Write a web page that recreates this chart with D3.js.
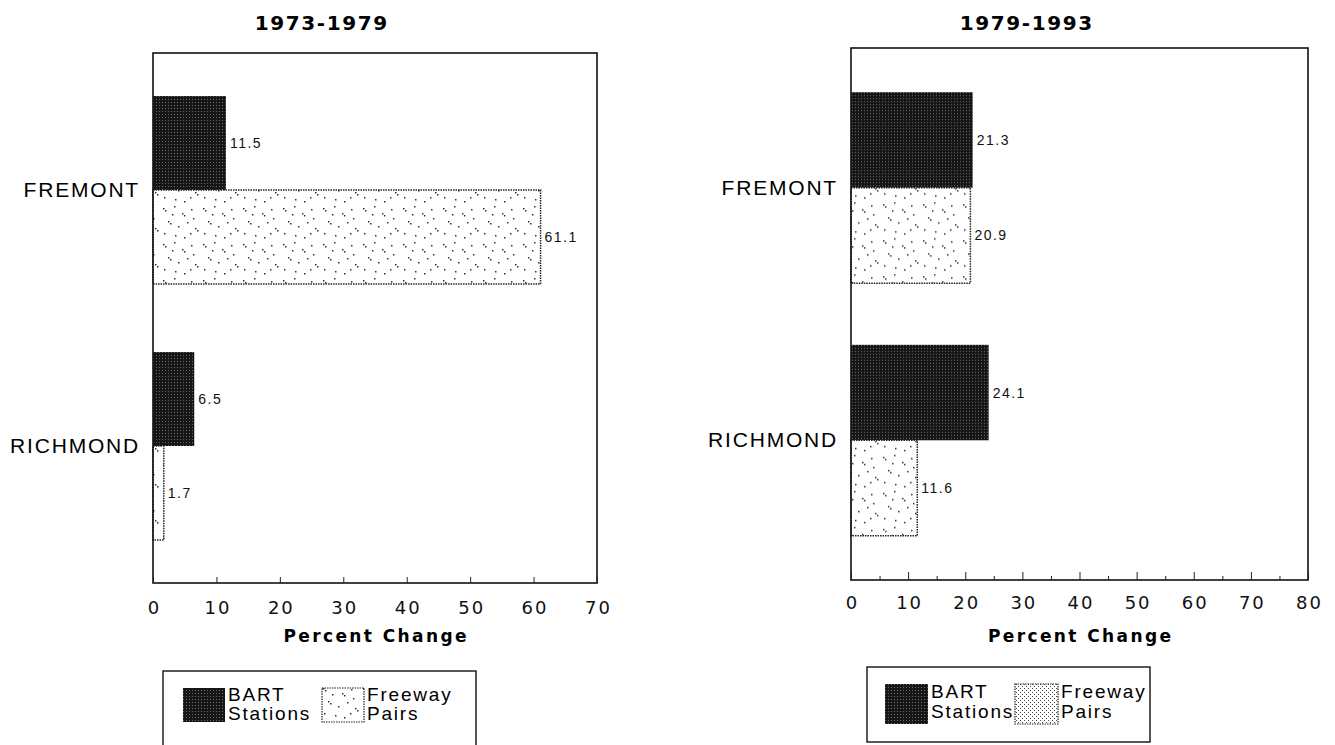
<!DOCTYPE html>
<html><head><meta charset="utf-8">
<script src="https://cdn.jsdelivr.net/npm/d3@7"></script>
<style>
body{margin:0;background:#fff;}
svg{display:block;font-family:"Liberation Sans",Arial,sans-serif;}
</style></head>
<body><svg id="c" width="1335" height="745"></svg>
<script>
const categories = ["FREMONT", "RICHMOND"];
const seriesNames = ["BART", "Freeway"];
const legendLines = [["BART", "Stations"], ["Freeway", "Pairs"]];
const titles = ["1973-1979", "1979-1993"];
const bart7379 = [11.5, 6.5];
const freeway7379 = [61.1, 1.7];
const bart7993 = [21.3, 24.1];
const freeway7993 = [20.9, 11.6];
const ticks7379 = [0, 10, 20, 30, 40, 50, 60, 70];
const ticks7993 = [0, 10, 20, 30, 40, 50, 60, 70, 80];
const minorTicks7993 = [5, 15, 25, 35, 45, 55, 65, 75];
const axisTitle = "Percent Change";

const wide = "'DejaVu Sans',Verdana,sans-serif";
const svg = d3.select("#c");
const defs = svg.append("defs");
const pb = defs.append("pattern").attr("id","bartPat").attr("patternUnits","userSpaceOnUse").attr("width",3).attr("height",3);
pb.append("rect").attr("width",3).attr("height",3).attr("fill","#161616");
pb.append("rect").attr("x",0).attr("y",0).attr("width",1).attr("height",1).attr("fill","#6a6a6a");
const pf = defs.append("pattern").attr("id","fwPat").attr("patternUnits","userSpaceOnUse").attr("width",40).attr("height",36);
pf.append("rect").attr("width",40).attr("height",36).attr("fill","#fff");
const dots = [[3,4],[5,6],[14,2],[22,9],[24,11],[31,5],[8,17],[10,19],[18,22],[27,18],[35,24],[37,26],[4,29],[15,31],[24,33],[30,29],[33,14],[12,10]];
pf.selectAll("rect.d").data(dots).join("rect").attr("class","d")
  .attr("x",d=>d[0]).attr("y",d=>d[1]).attr("width",1.5).attr("height",1.5).attr("fill","#333");
const ph = defs.append("pattern").attr("id","fwPat2").attr("patternUnits","userSpaceOnUse").attr("width",4).attr("height",4);
ph.append("rect").attr("width",4).attr("height",4).attr("fill","#fff");
ph.append("rect").attr("width",1).attr("height",1).attr("fill","#444");
ph.append("rect").attr("x",2).attr("y",2).attr("width",1).attr("height",1).attr("fill","#444");

function panel(cfg){
  const g = svg.append("g");
  const x = d3.scaleLinear().domain([0, cfg.max]).range([cfg.x0, cfg.x1]);
  const y = d3.scaleBand().domain(categories).range([cfg.y0, cfg.y1])
    .paddingInner(cfg.pi).paddingOuter(cfg.po);
  const ys = d3.scaleBand().domain(seriesNames).range([0, y.bandwidth()]);
  g.append("text").attr("x", cfg.titleX + 0.8).attr("y", 30)
    .attr("text-anchor","middle").attr("font-size",20).attr("font-weight","bold")
    .attr("font-family",wide).attr("letter-spacing",1.6).text(cfg.title);
  const rows = categories.map((c,i)=>({cat:c, vals:[{s:"BART", v:cfg.bart[i]},{s:"Freeway", v:cfg.fw[i]}]}));
  const rg = g.selectAll("g.row").data(rows).join("g").attr("transform", d=>`translate(0,${y(d.cat)})`);
  rg.selectAll("rect").data(d=>d.vals).join("rect")
    .attr("x", x(0)).attr("y", d=>ys(d.s)).attr("width", d=>x(d.v)-x(0)).attr("height", ys.bandwidth())
    .attr("fill", d=> d.s==="BART" ? "url(#bartPat)" : "url(#fwPat)")
    .attr("stroke", d=> d.s==="BART" ? "none" : "#222")
    .attr("stroke-width", 1.5).attr("stroke-dasharray", d=> d.s==="BART" ? null : "1.5,1");
  rg.selectAll("text").data(d=>d.vals).join("text")
    .attr("x", d=>x(d.v)+4).attr("y", d=>ys(d.s)+ys.bandwidth()/2+5)
    .attr("font-size",14).attr("letter-spacing",1.5).attr("fill","#111").text(d=>d3.format(".1f")(d.v));
  g.selectAll("text.cat").data(categories).join("text").attr("class","cat")
    .attr("x", cfg.x0-13).attr("y", d=>y(d)+y.bandwidth()/2+7)
    .attr("text-anchor","end").attr("font-size",21).attr("letter-spacing",1.8).text(d=>d);
  g.append("rect").attr("x",cfg.x0).attr("y",cfg.y0).attr("width",cfg.x1-cfg.x0).attr("height",cfg.y1-cfg.y0)
    .attr("fill","none").attr("stroke","#111").attr("stroke-width",1.6);
  const ax = g.append("g").attr("transform",`translate(0,${cfg.y1})`)
    .call(d3.axisBottom(x).tickValues(cfg.ticks).tickSize(-cfg.tickLen).tickPadding(cfg.pad).tickFormat(d3.format("d")));
  ax.select(".domain").remove();
  ax.selectAll("text").attr("font-size",18).attr("letter-spacing",2).attr("dx",1)
    .attr("font-family",wide).attr("fill","#111");
  ax.selectAll("line").attr("stroke","#222");
  if (cfg.minor){
    const am = g.append("g").attr("transform",`translate(0,${cfg.y1})`)
      .call(d3.axisBottom(x).tickValues(cfg.minor).tickSize(-4).tickFormat(""));
    am.select(".domain").remove();
    am.selectAll("line").attr("stroke","#222");
  }
  g.append("text").attr("x",(cfg.x0+cfg.x1)/2 + 1.2).attr("y",cfg.atY).attr("text-anchor","middle")
    .attr("font-size",17).attr("font-weight","bold").attr("font-family",wide)
    .attr("letter-spacing",2.4).text(axisTitle);
  const L = cfg.leg;
  g.append("rect").attr("x",L.x).attr("y",L.y).attr("width",L.w).attr("height",L.h)
    .attr("fill","#fff").attr("stroke","#111").attr("stroke-width",1.4);
  const items = [{fill:"url(#bartPat)", sx:L.s1, lines:legendLines[0], stroke:"none"},
                 {fill:L.fwFill, sx:L.s2, lines:legendLines[1], stroke:"#222"}];
  items.forEach(it=>{
    g.append("rect").attr("x",it.sx).attr("y",L.sy).attr("width",L.sw).attr("height",L.sh)
      .attr("fill",it.fill).attr("stroke",it.stroke).attr("stroke-width",1.2).attr("stroke-dasharray","1.5,1");
    it.lines.forEach((t,k)=>{
      g.append("text").attr("x",it.sx+L.sw+3).attr("y",L.sy+L.b1+k*L.gap).attr("font-size",19)
        .attr("letter-spacing",1.8).text(t);
    });
  });
}

panel({title:titles[0], titleX:321, max:70, x0:153, x1:597, y0:53, y1:583, pi:0.266, po:0.168,
  bart:bart7379, fw:freeway7379, ticks:ticks7379, tickLen:6, pad:18, atY:642,
  leg:{x:163,y:671,w:313,h:90,s1:183,s2:322,sy:688,sw:42,sh:34,b1:13,gap:19,fwFill:"url(#fwPat)"}});
panel({title:titles[1], titleX:1026, max:80, x0:851, x1:1308, y0:48, y1:580, pi:0.244, po:0.175,
  bart:bart7993, fw:freeway7993, ticks:ticks7993, minor:minorTicks7993, tickLen:8, pad:16, atY:642,
  leg:{x:867,y:667,w:283,h:75,s1:885,s2:1015,sy:684,sw:43,sh:40,b1:14,gap:20,fwFill:"url(#fwPat2)"}});
</script></body></html>
